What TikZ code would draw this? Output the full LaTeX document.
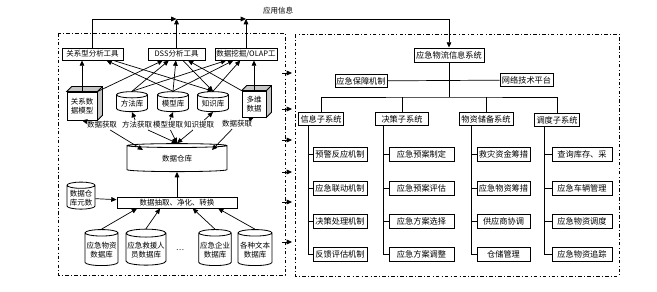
\documentclass[tikz,border=0pt]{standalone}
\usepackage{fontspec}
\setmainfont{Noto Sans CJK SC}
\usetikzlibrary{shapes.geometric,arrows.meta,calc}
\newlength\pxu
\setlength\pxu{0.03cm}
\begin{document}
\begin{tikzpicture}[x=0.03cm,y=-0.03cm,line width=0.6pt,
  every node/.style={font=\fontsize{6.4}{7.4}\selectfont,inner sep=1pt},
  big/.style={font=\fontsize{7}{8}\selectfont},
  box/.style={draw,line width=0.8pt,fill=white,minimum height=12\pxu},
  leaf/.style={draw,line width=0.8pt,fill=white,minimum height=14\pxu,big},
  db/.style={draw,line width=0.7pt,fill=white,cylinder,shape border rotate=90,aspect=0.25,align=center},
  cube/.style={draw,line width=0.7pt,fill=white,align=center},
  arr/.style={-{Triangle[length=4.5pt,width=4pt]}},
  frame/.style={dash dot,line width=0.6pt}]
\useasboundingbox (0,0) rectangle (657,292);

% two panels
\draw[frame] (58,33) rectangle (285,275);
\draw[frame] (295,34) rectangle (619,276);

% analysis tools
\node[box,minimum width=61\pxu] (t1) at (92.5,54) {关系型分析工具};
\node[box,minimum width=57\pxu] (t2) at (176.5,54) {DSS分析工具};
\node[box,minimum width=62\pxu] (t3) at (246,54) {数据挖掘/OLAP工};

% cubes
\node[cube,minimum width=30\pxu,minimum height=28\pxu] (c1) at (82,106) {关系数\\据模型};
\node[cube,minimum width=24\pxu,minimum height=26\pxu] (c2) at (254,104) {多维\\数据};
\foreach \c in {c1,c2}
  \draw[line width=0.7pt,fill=gray!45] (\c.north west) -- ++(5,-5) -| ($(\c.south east)+(5,-5)$)
    -- (\c.south east) -- (\c.north east) -- cycle (\c.north east) -- ++(5,-5);

% libraries
\node[db,minimum width=31\pxu,minimum height=20\pxu] (m1) at (132,104) {方法库};
\node[db,minimum width=31\pxu,minimum height=20\pxu] (m2) at (173,104) {模型库};
\node[db,minimum width=31\pxu,minimum height=20\pxu] (m3) at (213,104) {知识库};

% getting data
\node (g1) at (102,125) {数据获取};
\node (g2) at (137,125) {方法获取};
\node (g3) at (168,125) {模型提取};
\node (g4) at (199,125) {知识提取};
\node (g5) at (237,124) {数据获取};

% warehouse
\node[db,aspect=0.12,minimum width=100\pxu,minimum height=28\pxu] (dw) at (177,159) {数据仓库};
\coordinate (dwl) at (143,150);
\coordinate (dwr) at (212,150);
\node[box,minimum width=120\pxu,minimum height=11\pxu] (ex) at (177,202.5) {数据抽取、净化、转换};
\node[db,minimum width=28\pxu,minimum height=27\pxu] (md) at (81,198) {数据仓\\库元数};

% sources
\node[db,aspect=0.2,minimum width=33\pxu,minimum height=36\pxu] (s1) at (101.5,250) {应急物资\\数据库};
\node[db,aspect=0.2,minimum width=38\pxu,minimum height=36\pxu] (s2) at (146,250) {应急救援人\\员数据库};
\node (dots) at (180,250) {…};
\node[db,aspect=0.2,minimum width=31\pxu,minimum height=36\pxu] (s3) at (215,250) {应急企业\\数据库};
\node[db,aspect=0.2,minimum width=34\pxu,minimum height=36\pxu] (s4) at (255,250) {各种文本\\数据库};

% tool links
\draw[arr] (c1.north) -- (c1.north |- t1.south);
\draw[arr] (c2.north) -- (c2.north |- t3.south);
\draw[arr] (c1.north east) -- (t2);
\draw[arr] (c2.north west) -- (t2);
\draw[arr] (m1.north) -- (t2);
\draw[arr] (m2.north) -- (t2);
\draw[arr] (m1.north) -- (t3);
\draw[arr] (m2.north) -- (t3);
\draw[arr] (m3.north) -- (t3);
\draw[arr] (m2.north) -- (t1);
\draw[arr] (t1) -- (m3.north);
\draw[arr] (t2) -- (m3.north);

% warehouse links
\draw[arr] (g1) -- (c1.south);
\draw[arr] (g1) -- (dwl);
\draw[arr] (g5) -- (c2.south);
\draw[arr] (g5) -- (dwr);
\draw[arr] (g2) -- (m1.south);
\draw[arr] (g3) -- (m2.south);
\draw[arr] (g4) -- (m3.south);
\foreach \g in {g2,g3,g4}
  \draw[arr] (\g) -- (dw.north);
\draw[arr] (ex) -- (dw);
\draw[arr] (md) -- (ex);
\draw[arr] (s1.north) -- ($(ex.south west)!0.17!(ex.south east)$);
\draw[arr] (s2.north) -- ($(ex.south west)!0.36!(ex.south east)$);
\draw[arr] (s3.north) -- ($(ex.south west)!0.63!(ex.south east)$);
\draw[arr] (s4.north) -- ($(ex.south west)!0.84!(ex.south east)$);

% right panel
\node[box,big,minimum width=70\pxu,minimum height=14\pxu] (sys) at (449,55) {应急物流信息系统};
\node[box,big,minimum width=52\pxu,minimum height=13\pxu] (bz) at (361,81) {应急保障机制};
\node[box,big,minimum width=53\pxu,minimum height=13\pxu] (wl) at (526.5,80) {网络技术平台};
\draw (bz) -- (wl);
\node[box,big,minimum width=45\pxu,minimum height=13\pxu] (z1) at (321,119) {信息子系统};
\node[box,big,minimum width=53\pxu,minimum height=13\pxu] (z2) at (402,119) {决策子系统};
\node[box,big,minimum width=54\pxu,minimum height=13\pxu] (z3) at (486,119) {物资储备系统};
\node[box,big,minimum width=45\pxu,minimum height=13\pxu] (z4) at (557,120) {调度子系统};
\coordinate (bus) at (449,97);
\draw (sys) -- (bus);
\draw (z1) |- (bus) -| (z4);
\draw (z2) -- (z2 |- bus);
\draw (z3) -- (z3 |- bus);

% leaves
\foreach \t/\y [count=\i] in {预警反应机制/154,应急联动机制/188,决策处理机制/221,反馈评估机制/254}
  \node[leaf,minimum width=54\pxu] (a\i) at (340,\y) {\t};
\foreach \t/\y [count=\i] in {应急预案制定/154,应急预案评估/188,应急方案选择/221,应急方案调整/254}
  \node[leaf,minimum width=65\pxu] (b\i) at (421.5,\y) {\t};
\foreach \t/\y [count=\i] in {救灾资金筹措/154,应急物资筹措/188,供应商协调/221,仓储管理/254}
  \node[leaf,minimum width=53\pxu] (c\i) at (503.5,\y) {\t};
\foreach \t/\y [count=\i] in {查询库存、采/154,应急车辆管理/188,应急物资调度/221,应急物资追踪/254}
  \node[leaf,minimum width=60\pxu] (d\i) at (582,\y) {\t};
\coordinate (v1) at ($(z1.south west)+(10,0)$);
\coordinate (v2) at ($(z2.south west)+(8,0)$);
\coordinate (v3) at ($(z3.south west)+(13,0)$);
\coordinate (v4) at ($(z4.south west)+(10,0)$);
\foreach \l/\v in {a/v1,b/v2,c/v3,d/v4} {
  \draw (\v) |- (\l4.west);
  \foreach \i in {1,2,3}
    \draw (\l\i.west) -- (\l\i.west -| \v);
}

% feedback to system
\coordinate (j1) at (176.5,19);
\coordinate (j2) at (246,19);
\draw[arr] (t1.north) |- (j1);
\draw[arr] (j1) -- (j2);
\draw[arr] (j2) -| (sys.north);
\draw[arr] (t2.north) -- (j1);
\draw[arr] (t3.north) -- (j2);
\node (yy) at (278,11) {应用信息};

% links between panels
\foreach \y [count=\i] in {73,109,140,172,202,242} {
  \coordinate (p\i) at (282,\y);
  \coordinate (q\i) at (292,\y);
  \draw[arr] (p\i) -- (q\i);
}
\end{tikzpicture}
\end{document}
